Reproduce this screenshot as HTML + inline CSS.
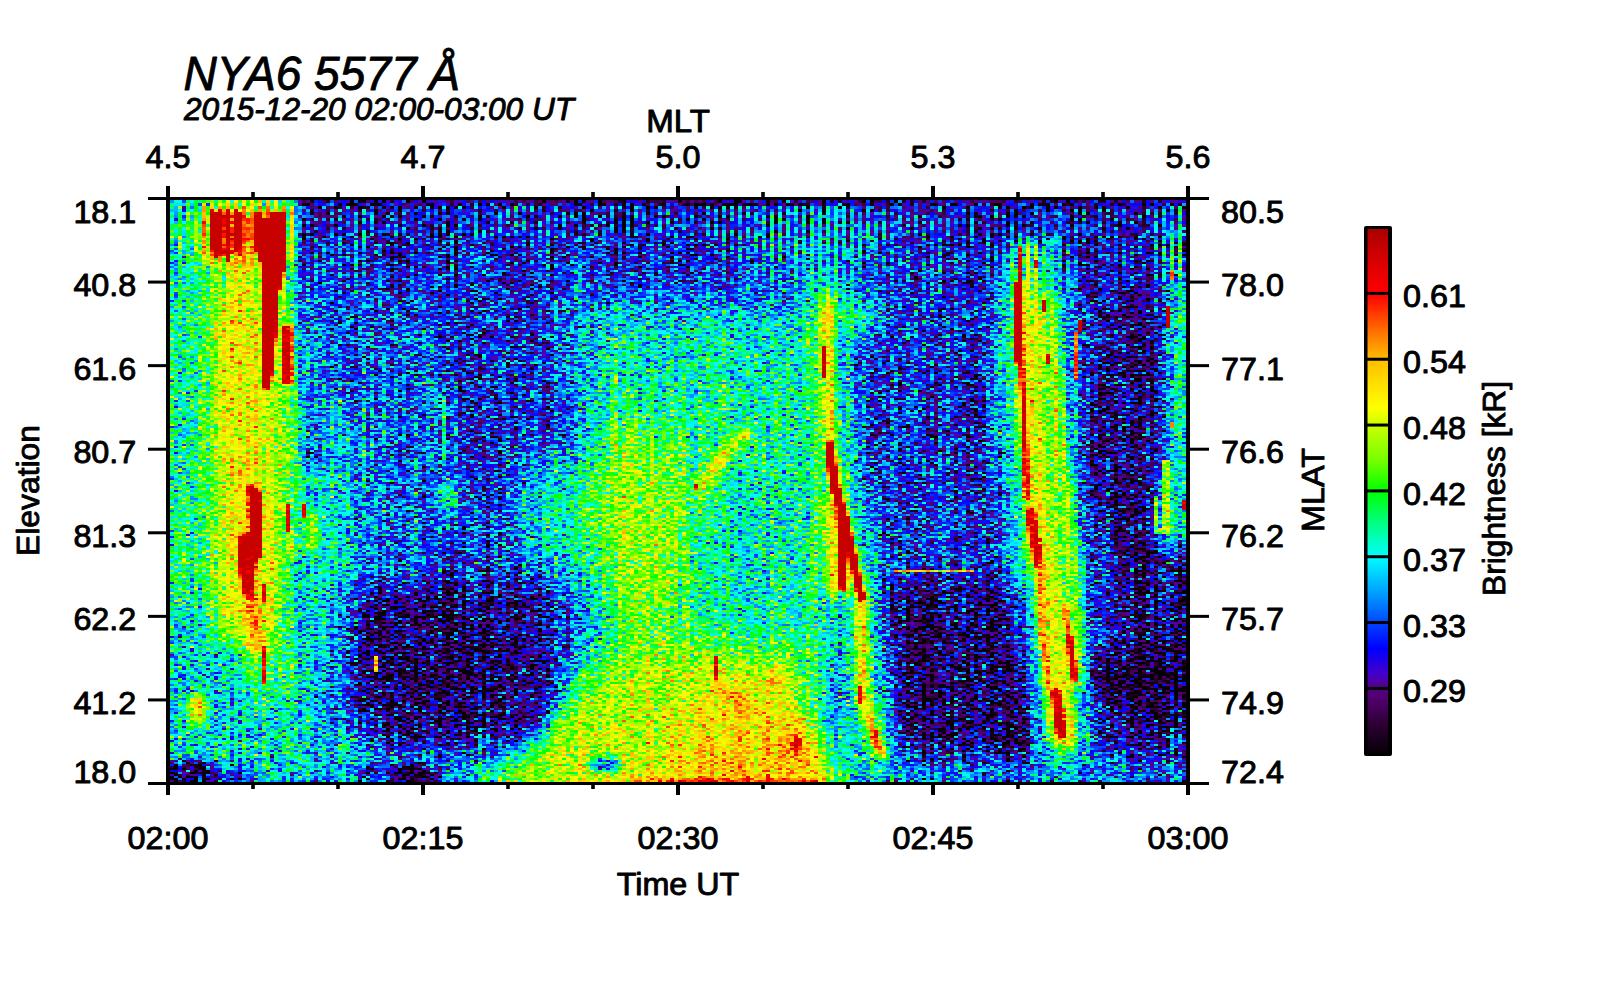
<!DOCTYPE html>
<html lang="en"><head><meta charset="utf-8"><title>NYA6 5577 keogram</title>
<style>html,body{margin:0;padding:0;background:#fff}svg{display:block}text{font-family:"Liberation Sans",sans-serif;fill:#000;stroke:#000;stroke-width:.9px;stroke-linejoin:round}</style></head><body>
<svg width="1600" height="1000" viewBox="0 0 1600 1000">
<defs>
<linearGradient id="cb" x1="0" y1="1" x2="0" y2="0">
<stop offset="0" stop-color="rgb(8,0,8)"/>
<stop offset="0.05" stop-color="rgb(40,0,45)"/>
<stop offset="0.1" stop-color="rgb(78,0,105)"/>
<stop offset="0.125" stop-color="rgb(85,0,130)"/>
<stop offset="0.15" stop-color="rgb(70,0,200)"/>
<stop offset="0.2" stop-color="rgb(0,0,255)"/>
<stop offset="0.25" stop-color="rgb(0,70,255)"/>
<stop offset="0.3" stop-color="rgb(0,150,255)"/>
<stop offset="0.375" stop-color="rgb(0,255,255)"/>
<stop offset="0.44" stop-color="rgb(0,255,130)"/>
<stop offset="0.5" stop-color="rgb(0,255,0)"/>
<stop offset="0.56" stop-color="rgb(120,255,0)"/>
<stop offset="0.625" stop-color="rgb(200,255,0)"/>
<stop offset="0.66" stop-color="rgb(255,255,0)"/>
<stop offset="0.75" stop-color="rgb(255,190,0)"/>
<stop offset="0.8" stop-color="rgb(255,120,0)"/>
<stop offset="0.875" stop-color="rgb(255,0,0)"/>
<stop offset="0.92" stop-color="rgb(230,0,0)"/>
<stop offset="1" stop-color="rgb(170,0,0)"/>
</linearGradient>
<clipPath id="clip0"><rect x="170" y="200" width="1016" height="36"/></clipPath>
<filter id="cm0" filterUnits="userSpaceOnUse" x="170" y="200" width="1016" height="36" color-interpolation-filters="sRGB">
<feTurbulence type="fractalNoise" baseFrequency="0.37 0.433333" numOctaves="2" seed="7"/>
<feColorMatrix type="matrix" values="1 0 0 0 0 1 0 0 0 0 1 0 0 0 0 0 0 0 0 1" result="t1"/>
<feTurbulence type="fractalNoise" baseFrequency="0.37 0.006" numOctaves="1" seed="23"/>
<feColorMatrix type="matrix" values="1 0 0 0 0 1 0 0 0 0 1 0 0 0 0 0 0 0 0 1" result="t2"/>
<feComposite in="t1" in2="t2" operator="arithmetic" k1="0" k2="1" k3="0.388889" k4="-0.194444" result="n"/>
<feComposite in="SourceGraphic" in2="n" operator="arithmetic" k1="-0.5886" k2="1.2943" k3="0.692308" k4="-0.346154" result="v0"/>
<feFlood x="170" y="200" width="1" height="1" flood-color="#000"/>
<feComposite width="4" height="3"/>
<feTile result="grid"/>
<feComposite in="v0" in2="grid" operator="in" result="s0"/>
<feOffset in="s0" dx="1" result="o"/><feMerge result="s1"><feMergeNode in="s0"/><feMergeNode in="o"/></feMerge>
<feOffset in="s1" dx="2" result="o"/><feMerge result="s2"><feMergeNode in="s1"/><feMergeNode in="o"/></feMerge>
<feOffset in="s2" dy="1" result="o"/><feMerge result="s3"><feMergeNode in="s2"/><feMergeNode in="o"/></feMerge>
<feOffset in="s3" dy="1" result="o"/><feMerge result="v"><feMergeNode in="s3"/><feMergeNode in="o"/></feMerge>
<feGaussianBlur in="v" stdDeviation="0 0.45" result="v"/>
<feComponentTransfer in="v"><feFuncR type="table" tableValues="0.031 0.072 0.113 0.154 0.202 0.25 0.298 0.321 0.322 0.283 0.206 0.117 0.027 0 0 0 0 0 0 0 0 0 0 0 0 0 0 0 0 0 0 0.029 0.157 0.284 0.412 0.513 0.591 0.67 0.748 0.838 0.938 1 1 1 1 1 1 1 1 1 1 1 1 1 0.995 0.959 0.924 0.884 0.784 0.784 0.784 0.784 0.784 0.784 0.784 0.784 0.784 0.784 0.784 0.784 0.784 0.784 0.784 0.784 0.784 0.784 0.784 0.784 0.784 0.784 0.784"/><feFuncG type="table" tableValues="0 0 0 0 0 0 0 0 0 0 0 0 0 0.062 0.151 0.24 0.337 0.439 0.541 0.636 0.725 0.815 0.904 0.993 1 1 1 1 1 1 1 1 1 1 1 1 1 1 1 1 1 0.982 0.936 0.89 0.844 0.798 0.752 0.67 0.58 0.491 0.392 0.29 0.188 0.086 0 0 0 0 0 0 0 0 0 0 0 0 0 0 0 0 0 0 0 0 0 0 0 0 0 0 0"/><feFuncB type="table" tableValues="0.031 0.079 0.126 0.173 0.247 0.324 0.4 0.466 0.565 0.743 0.838 0.908 0.978 1 1 1 1 1 1 1 1 1 1 1 0.887 0.764 0.642 0.519 0.382 0.244 0.106 0 0 0 0 0 0 0 0 0 0 0 0 0 0 0 0 0 0 0 0 0 0 0 0 0 0 0 0 0 0 0 0 0 0 0 0 0 0 0 0 0 0 0 0 0 0 0 0 0 0"/><feFuncA type="linear" slope="0" intercept="1"/></feComponentTransfer>
</filter>
<clipPath id="clip1"><rect x="170" y="236" width="1016" height="64"/></clipPath>
<filter id="cm1" filterUnits="userSpaceOnUse" x="170" y="236" width="1016" height="64" color-interpolation-filters="sRGB">
<feTurbulence type="fractalNoise" baseFrequency="0.37 0.61" numOctaves="2" seed="8"/>
<feColorMatrix type="matrix" values="1 0 0 0 0 1 0 0 0 0 1 0 0 0 0 0 0 0 0 1" result="t1"/>
<feTurbulence type="fractalNoise" baseFrequency="0.37 0.006" numOctaves="1" seed="24"/>
<feColorMatrix type="matrix" values="1 0 0 0 0 1 0 0 0 0 1 0 0 0 0 0 0 0 0 1" result="t2"/>
<feComposite in="t1" in2="t2" operator="arithmetic" k1="0" k2="1" k3="0.368421" k4="-0.184211" result="n"/>
<feComposite in="SourceGraphic" in2="n" operator="arithmetic" k1="-0.6213" k2="1.31065" k3="0.730769" k4="-0.365385" result="v0"/>
<feFlood x="170" y="236" width="1" height="1" flood-color="#000"/>
<feComposite width="4" height="2"/>
<feTile result="grid"/>
<feComposite in="v0" in2="grid" operator="in" result="s0"/>
<feOffset in="s0" dx="1" result="o"/><feMerge result="s1"><feMergeNode in="s0"/><feMergeNode in="o"/></feMerge>
<feOffset in="s1" dx="2" result="o"/><feMerge result="s2"><feMergeNode in="s1"/><feMergeNode in="o"/></feMerge>
<feOffset in="s2" dy="1" result="o"/><feMerge result="v"><feMergeNode in="s2"/><feMergeNode in="o"/></feMerge>
<feGaussianBlur in="v" stdDeviation="0 0.45" result="v"/>
<feComponentTransfer in="v"><feFuncR type="table" tableValues="0.031 0.072 0.113 0.154 0.202 0.25 0.298 0.321 0.322 0.283 0.206 0.117 0.027 0 0 0 0 0 0 0 0 0 0 0 0 0 0 0 0 0 0 0.029 0.157 0.284 0.412 0.513 0.591 0.67 0.748 0.838 0.938 1 1 1 1 1 1 1 1 1 1 1 1 1 0.995 0.959 0.924 0.884 0.784 0.784 0.784 0.784 0.784 0.784 0.784 0.784 0.784 0.784 0.784 0.784 0.784 0.784 0.784 0.784 0.784 0.784 0.784 0.784 0.784 0.784 0.784"/><feFuncG type="table" tableValues="0 0 0 0 0 0 0 0 0 0 0 0 0 0.062 0.151 0.24 0.337 0.439 0.541 0.636 0.725 0.815 0.904 0.993 1 1 1 1 1 1 1 1 1 1 1 1 1 1 1 1 1 0.982 0.936 0.89 0.844 0.798 0.752 0.67 0.58 0.491 0.392 0.29 0.188 0.086 0 0 0 0 0 0 0 0 0 0 0 0 0 0 0 0 0 0 0 0 0 0 0 0 0 0 0"/><feFuncB type="table" tableValues="0.031 0.079 0.126 0.173 0.247 0.324 0.4 0.466 0.565 0.743 0.838 0.908 0.978 1 1 1 1 1 1 1 1 1 1 1 0.887 0.764 0.642 0.519 0.382 0.244 0.106 0 0 0 0 0 0 0 0 0 0 0 0 0 0 0 0 0 0 0 0 0 0 0 0 0 0 0 0 0 0 0 0 0 0 0 0 0 0 0 0 0 0 0 0 0 0 0 0 0 0"/><feFuncA type="linear" slope="0" intercept="1"/></feComponentTransfer>
</filter>
<clipPath id="clip2"><rect x="170" y="300" width="1016" height="482"/></clipPath>
<filter id="cm2" filterUnits="userSpaceOnUse" x="170" y="300" width="1016" height="482" color-interpolation-filters="sRGB">
<feTurbulence type="fractalNoise" baseFrequency="0.37 0.61" numOctaves="2" seed="9"/>
<feColorMatrix type="matrix" values="1 0 0 0 0 1 0 0 0 0 1 0 0 0 0 0 0 0 0 1" result="t1"/>
<feTurbulence type="fractalNoise" baseFrequency="0.37 0.006" numOctaves="1" seed="25"/>
<feColorMatrix type="matrix" values="1 0 0 0 0 1 0 0 0 0 1 0 0 0 0 0 0 0 0 1" result="t2"/>
<feComposite in="t1" in2="t2" operator="arithmetic" k1="0" k2="1" k3="0.373832" k4="-0.186916" result="n"/>
<feComposite in="SourceGraphic" in2="n" operator="arithmetic" k1="-0.69978" k2="1.34989" k3="0.823077" k4="-0.411538" result="v0"/>
<feFlood x="170" y="300" width="1" height="1" flood-color="#000"/>
<feComposite width="4" height="2"/>
<feTile result="grid"/>
<feComposite in="v0" in2="grid" operator="in" result="s0"/>
<feOffset in="s0" dx="1" result="o"/><feMerge result="s1"><feMergeNode in="s0"/><feMergeNode in="o"/></feMerge>
<feOffset in="s1" dx="2" result="o"/><feMerge result="s2"><feMergeNode in="s1"/><feMergeNode in="o"/></feMerge>
<feOffset in="s2" dy="1" result="o"/><feMerge result="v"><feMergeNode in="s2"/><feMergeNode in="o"/></feMerge>
<feGaussianBlur in="v" stdDeviation="0 0.45" result="v"/>
<feComponentTransfer in="v"><feFuncR type="table" tableValues="0.031 0.072 0.113 0.154 0.202 0.25 0.298 0.321 0.322 0.283 0.206 0.117 0.027 0 0 0 0 0 0 0 0 0 0 0 0 0 0 0 0 0 0 0.029 0.157 0.284 0.412 0.513 0.591 0.67 0.748 0.838 0.938 1 1 1 1 1 1 1 1 1 1 1 1 1 0.995 0.959 0.924 0.884 0.784 0.784 0.784 0.784 0.784 0.784 0.784 0.784 0.784 0.784 0.784 0.784 0.784 0.784 0.784 0.784 0.784 0.784 0.784 0.784 0.784 0.784 0.784"/><feFuncG type="table" tableValues="0 0 0 0 0 0 0 0 0 0 0 0 0 0.062 0.151 0.24 0.337 0.439 0.541 0.636 0.725 0.815 0.904 0.993 1 1 1 1 1 1 1 1 1 1 1 1 1 1 1 1 1 0.982 0.936 0.89 0.844 0.798 0.752 0.67 0.58 0.491 0.392 0.29 0.188 0.086 0 0 0 0 0 0 0 0 0 0 0 0 0 0 0 0 0 0 0 0 0 0 0 0 0 0 0"/><feFuncB type="table" tableValues="0.031 0.079 0.126 0.173 0.247 0.324 0.4 0.466 0.565 0.743 0.838 0.908 0.978 1 1 1 1 1 1 1 1 1 1 1 0.887 0.764 0.642 0.519 0.382 0.244 0.106 0 0 0 0 0 0 0 0 0 0 0 0 0 0 0 0 0 0 0 0 0 0 0 0 0 0 0 0 0 0 0 0 0 0 0 0 0 0 0 0 0 0 0 0 0 0 0 0 0 0"/><feFuncA type="linear" slope="0" intercept="1"/></feComponentTransfer>
</filter>
<g id="paint">
<filter id="b1_3" filterUnits="userSpaceOnUse" x="0" y="100" width="1400" height="800" color-interpolation-filters="sRGB"><feGaussianBlur stdDeviation="1.3"/></filter>
<filter id="b3_5" filterUnits="userSpaceOnUse" x="0" y="100" width="1400" height="800" color-interpolation-filters="sRGB"><feGaussianBlur stdDeviation="3.5"/></filter>
<filter id="b5" filterUnits="userSpaceOnUse" x="0" y="100" width="1400" height="800" color-interpolation-filters="sRGB"><feGaussianBlur stdDeviation="5"/></filter>
<filter id="b12" filterUnits="userSpaceOnUse" x="0" y="100" width="1400" height="800" color-interpolation-filters="sRGB"><feGaussianBlur stdDeviation="12"/></filter>
<filter id="b20" filterUnits="userSpaceOnUse" x="0" y="100" width="1400" height="800" color-interpolation-filters="sRGB"><feGaussianBlur stdDeviation="20"/></filter>
<g>
<rect x="120" y="150" width="1116" height="682" fill="#313131"/>
</g>
<g filter="url(#b20)">
<rect x="100" y="150" width="194" height="680" fill="#565656"/>
<rect x="216" y="150" width="76" height="320" fill="#767676"/>
<rect x="218" y="470" width="54" height="170" fill="#727272"/>
<polygon points="240,640 300,640 320,700 250,700" fill="#666666"/>
<polygon points="100,600 215,600 240,700 360,720 360,830 100,830" fill="#434343"/>
<rect x="300" y="270" width="140" height="300" fill="#313131"/>
<rect x="296" y="570" width="54" height="180" fill="#414141"/>
<rect x="290" y="405" width="70" height="185" fill="#4b4b4b"/>
<polygon points="450,290 548,290 548,440 520,470 520,580 556,600 556,750 475,750" fill="#252525"/>
<ellipse cx="556" cy="515" rx="40" ry="60" fill="#525252"/>
<polygon points="582,308 800,305 815,480 850,700 860,830 430,830 470,778 560,725 594,655 590,560" fill="#545454"/>
<ellipse cx="638" cy="525" rx="48" ry="110" fill="#747474"/>
<ellipse cx="768" cy="560" rx="36" ry="80" fill="#4e4e4e"/>
<ellipse cx="700" cy="350" rx="90" ry="40" fill="#4e4e4e"/>
<polygon points="600,650 700,640 800,660 830,830 460,830 490,775" fill="#7a7a7a"/>
<polygon points="600,775 680,700 805,700 830,830 560,830" fill="#858585"/>
<ellipse cx="810" cy="236" rx="80" ry="42" fill="#505050"/>
<polygon points="880,300 1000,300 1012,570 890,570" fill="#272727"/>
<polygon points="1095,280 1230,280 1230,760 1100,760" fill="#161616"/>
<rect x="880" y="757" width="370" height="73" fill="#3b3b3b"/>
<rect x="200" y="740" width="270" height="25" fill="#494949"/>
</g>
<g filter="url(#b12)">
<polygon points="358,590 440,578 545,588 552,700 525,742 380,745 340,725 352,690" fill="#161616"/>
<ellipse cx="425" cy="655" rx="72" ry="60" fill="#0e0e0e"/>
<polygon points="880,580 1010,580 1034,755 893,755" fill="#0f0f0f"/>
<ellipse cx="1142" cy="680" rx="62" ry="32" fill="#060606"/>
<ellipse cx="1125" cy="440" rx="36" ry="110" fill="#101010"/>
<ellipse cx="240" cy="232" rx="50" ry="34" fill="#939393"/>
<polygon points="220,260 290,260 292,420 284,520 274,600 232,600 220,420" fill="#7c7c7c"/>
<rect x="219" y="255" width="30" height="385" fill="#898989"/>
<polygon points="238,500 268,500 272,640 246,640" fill="#858585"/>
<rect x="170" y="727" width="186" height="28" fill="#4e4e4e"/>
<rect x="300" y="200" width="45" height="180" fill="#333333"/>
<ellipse cx="642" cy="538" rx="20" ry="30" fill="#767676"/>
<polygon points="640,778 700,745 815,750 825,800 620,800" fill="#8d8d8d"/>
<ellipse cx="745" cy="700" rx="35" ry="22" fill="#898989"/>
<ellipse cx="793" cy="740" rx="16" ry="22" fill="#9d9d9d"/>
<ellipse cx="778" cy="675" rx="9" ry="24" fill="#7e7e7e"/>
<polyline points="824,270 826,340 832,450 842,520 858,600 866,690 880,755" fill="none" stroke="#565656" stroke-width="34" stroke-linecap="round" stroke-linejoin="round"/>
<ellipse cx="842" cy="314" rx="36" ry="22" fill="#5e5e5e"/>
<polyline points="810,300 813,450 822,540 828,590" fill="none" stroke="#666666" stroke-width="22" stroke-linecap="round" stroke-linejoin="round"/>
<ellipse cx="838" cy="705" rx="22" ry="45" fill="#3f3f3f"/>
<polyline points="1028,240 1032,330 1038,470 1046,580" fill="none" stroke="#5a5a5a" stroke-width="64" stroke-linecap="butt" stroke-linejoin="round"/>
<polyline points="1046,570 1054,620 1062,700 1064,742" fill="none" stroke="#5a5a5a" stroke-width="46" stroke-linecap="round" stroke-linejoin="round"/>
<polyline points="1183,215 1180,330 1177,430 1175,535" fill="none" stroke="#626262" stroke-width="28" stroke-linecap="round" stroke-linejoin="round"/>
</g>
<g filter="url(#b3_5)">
<polyline points="825,296 825,340 829,445 838,500 850,560 859,598 861,697 875,744 880,752" fill="none" stroke="#898989" stroke-width="13" stroke-linecap="round" stroke-linejoin="round"/>
<polyline points="826,505 832,590" fill="none" stroke="#7e7e7e" stroke-width="14" stroke-linecap="round" stroke-linejoin="round"/>
<polyline points="1026,255 1028,330 1032,420 1038,500 1048,600 1056,690 1062,736" fill="none" stroke="#808080" stroke-width="28" stroke-linecap="round" stroke-linejoin="round"/>
<polyline points="1046,300 1056,420 1070,560 1076,680" fill="none" stroke="#767676" stroke-width="14" stroke-linecap="round" stroke-linejoin="round"/>
<polygon points="200,206 292,206 292,262 250,268 200,258" fill="#9d9d9d"/>
<rect x="297" y="206" width="33" height="264" fill="#353535"/>
<polyline points="248,596 256,646" fill="none" stroke="#959595" stroke-width="16" stroke-linecap="round" stroke-linejoin="round"/>
<ellipse cx="310" cy="530" rx="7" ry="20" fill="#7a7a7a"/>
<ellipse cx="290" cy="545" rx="4" ry="12" fill="#7e7e7e"/>
<polyline points="714,683 746,714" fill="none" stroke="#959595" stroke-width="10" stroke-linecap="round" stroke-linejoin="round"/>
<ellipse cx="604" cy="764" rx="17" ry="7" fill="#373737"/>
<rect x="770" y="666" width="5" height="20" fill="#999999"/>
</g>
<g filter="url(#b5)">
<ellipse cx="446" cy="497" rx="11" ry="19" fill="#525252"/>
<polyline points="700,486 722,456 744,434" fill="none" stroke="#858585" stroke-width="14" stroke-linecap="round" stroke-linejoin="round"/>
<ellipse cx="188" cy="775" rx="30" ry="15" fill="#040404"/>
<ellipse cx="236" cy="777" rx="13" ry="9" fill="#181818"/>
<ellipse cx="414" cy="775" rx="22" ry="14" fill="#000000"/>
<ellipse cx="370" cy="771" rx="16" ry="8" fill="#141414"/>
<ellipse cx="197" cy="708" rx="9" ry="17" fill="#898989"/>
</g>
<g>
<linearGradient id="sf" gradientUnits="userSpaceOnUse" x1="0" y1="0" x2="0" y2="120"><stop offset="0" stop-color="#0a0a0a" stop-opacity=".8"/><stop offset=".5" stop-color="#0a0a0a" stop-opacity=".5"/><stop offset="1" stop-color="#0a0a0a" stop-opacity="0"/></linearGradient>
<pattern id="sp" patternUnits="userSpaceOnUse" x="170" y="200" width="8" height="130"><rect x="4" y="0" width="4" height="130" fill="url(#sf)"/></pattern>
<rect x="296" y="200" width="890" height="130" fill="url(#sp)"/>
<rect x="170" y="200" width="126" height="130" fill="url(#sp)" opacity=".45"/>
</g>
<g filter="url(#b1_3)">
<polygon points="209,210 240,210 240,246 226,256 209,248" fill="#efefef"/>
<polygon points="253,212 284,212 283,250 282,276 276,298 274,340 271,371 268,388 261,388 261,262 253,250" fill="#efefef"/>
<rect x="243" y="215" width="8" height="25" fill="#a1a1a1"/>
<rect x="280" y="325" width="11" height="59" fill="#bebebe"/>
<polygon points="246,484 251,484 261,492 261,556 255,562 251,596 243,596 237,572 236,536 248,532" fill="#c0c0c0"/>
<polyline points="828,445 832,480 839,505 842,587" fill="none" stroke="#efefef" stroke-width="8" stroke-linecap="round" stroke-linejoin="round"/>
<polyline points="842,515 847,535 856,580 860,597" fill="none" stroke="#efefef" stroke-width="7" stroke-linecap="round" stroke-linejoin="round"/>
<polyline points="873,730 876,747" fill="none" stroke="#b4b4b4" stroke-width="5" stroke-linecap="round" stroke-linejoin="round"/>
<polyline points="1019.5,246 1018.5,281" fill="none" stroke="#bababa" stroke-width="4" stroke-linecap="butt" stroke-linejoin="round"/>
<polyline points="1017.5,281 1017.5,362" fill="none" stroke="#efefef" stroke-width="8" stroke-linecap="butt" stroke-linejoin="round"/>
<polyline points="1019.5,362 1022,400 1026,500" fill="none" stroke="#b6b6b6" stroke-width="6" stroke-linecap="butt" stroke-linejoin="round"/>
<polyline points="1029,512 1033,540 1037,562" fill="none" stroke="#b6b6b6" stroke-width="11" stroke-linecap="round" stroke-linejoin="round"/>
<polyline points="1039,560 1041,637 1047,685" fill="none" stroke="#9d9d9d" stroke-width="6" stroke-linecap="round" stroke-linejoin="round"/>
<polyline points="1064,606 1068,637" fill="none" stroke="#a1a1a1" stroke-width="6" stroke-linecap="round" stroke-linejoin="round"/>
<polyline points="1068,637 1073,678" fill="none" stroke="#bebebe" stroke-width="7" stroke-linecap="round" stroke-linejoin="round"/>
<polyline points="1054,692 1060,734" fill="none" stroke="#bebebe" stroke-width="10" stroke-linecap="round" stroke-linejoin="round"/>
<ellipse cx="795" cy="744" rx="5" ry="10" fill="#b4b4b4"/>
<rect x="630" y="778" width="186" height="4" fill="#a7a7a7"/>
</g>
<g>
<rect x="891" y="570" width="80" height="2" fill="#898989"/>
<rect x="214" y="246" width="4" height="12" fill="#bebebe"/>
<rect x="226" y="246" width="4" height="16" fill="#bebebe"/>
<rect x="222" y="212" width="4" height="38" fill="#a9a9a9"/>
<rect x="230" y="212" width="4" height="40" fill="#a5a5a5"/>
<rect x="262" y="212" width="8" height="6" fill="#9d9d9d"/>
<rect x="238" y="246" width="4" height="10" fill="#b1b1b1"/>
<rect x="282" y="256" width="4" height="16" fill="#bebebe"/>
<rect x="262" y="584" width="4" height="18" fill="#b4b4b4"/>
<rect x="262" y="646" width="4" height="38" fill="#adadad"/>
<rect x="286" y="504" width="4" height="28" fill="#b4b4b4"/>
<rect x="302" y="504" width="4" height="14" fill="#b4b4b4"/>
<rect x="822" y="346" width="4" height="32" fill="#c4c4c4"/>
<rect x="858" y="686" width="4" height="18" fill="#b1b1b1"/>
<rect x="1034" y="260" width="4" height="8" fill="#bababa"/>
<rect x="1042" y="300" width="4" height="12" fill="#c4c4c4"/>
<rect x="1046" y="354" width="4" height="10" fill="#bebebe"/>
<rect x="1078" y="320" width="4" height="12" fill="#c4c4c4"/>
<rect x="1074" y="332" width="4" height="48" fill="#9d9d9d"/>
<rect x="1166" y="306" width="4" height="22" fill="#c4c4c4"/>
<rect x="1166" y="464" width="4" height="12" fill="#bebebe"/>
<rect x="1170" y="270" width="4" height="10" fill="#a1a1a1"/>
<rect x="1170" y="422" width="4" height="6" fill="#a7a7a7"/>
<rect x="1182" y="500" width="4" height="10" fill="#bababa"/>
<rect x="442" y="396" width="4" height="64" fill="#565656"/>
<rect x="374" y="656" width="4" height="16" fill="#8d8d8d"/>
<rect x="714" y="656" width="4" height="24" fill="#b4b4b4"/>
<rect x="694" y="484" width="4" height="6" fill="#b4b4b4"/>
<rect x="1154" y="496" width="4" height="36" fill="#727272"/>
<rect x="1162" y="460" width="8" height="70" fill="#727272"/>
<rect x="1154" y="528" width="16" height="6" fill="#6c6c6c"/>
<rect x="296" y="200" width="890" height="4" fill="#101010" opacity="0.75"/>
</g>
</g>
</defs>
<rect width="1600" height="1000" fill="#fff"/>
<g clip-path="url(#clip0)"><g filter="url(#cm0)"><use href="#paint"/></g></g>
<g clip-path="url(#clip1)"><g filter="url(#cm1)"><use href="#paint"/></g></g>
<g clip-path="url(#clip2)"><g filter="url(#cm2)"><use href="#paint"/></g></g>
<g fill="#000">
<rect x="166" y="197" width="4" height="588"/>
<rect x="1186" y="197" width="4" height="588"/>
<rect x="166" y="197" width="1024" height="3"/>
<rect x="166" y="782" width="1024" height="3"/>
<rect x="166.00" y="186" width="4" height="11"/>
<rect x="166.00" y="785" width="4" height="10"/>
<rect x="251.20" y="192" width="3.6" height="5"/>
<rect x="251.20" y="785" width="3.6" height="4"/>
<rect x="336.20" y="192" width="3.6" height="5"/>
<rect x="336.20" y="785" width="3.6" height="4"/>
<rect x="421.00" y="186" width="4" height="11"/>
<rect x="421.00" y="785" width="4" height="10"/>
<rect x="506.20" y="192" width="3.6" height="5"/>
<rect x="506.20" y="785" width="3.6" height="4"/>
<rect x="591.20" y="192" width="3.6" height="5"/>
<rect x="591.20" y="785" width="3.6" height="4"/>
<rect x="676.00" y="186" width="4" height="11"/>
<rect x="676.00" y="785" width="4" height="10"/>
<rect x="761.20" y="192" width="3.6" height="5"/>
<rect x="761.20" y="785" width="3.6" height="4"/>
<rect x="846.20" y="192" width="3.6" height="5"/>
<rect x="846.20" y="785" width="3.6" height="4"/>
<rect x="931.00" y="186" width="4" height="11"/>
<rect x="931.00" y="785" width="4" height="10"/>
<rect x="1016.20" y="192" width="3.6" height="5"/>
<rect x="1016.20" y="785" width="3.6" height="4"/>
<rect x="1101.20" y="192" width="3.6" height="5"/>
<rect x="1101.20" y="785" width="3.6" height="4"/>
<rect x="1186.00" y="186" width="4" height="11"/>
<rect x="1186.00" y="785" width="4" height="10"/>
<rect x="148" y="197.00" width="18" height="3"/>
<rect x="1190" y="197.00" width="19" height="3"/>
<rect x="148" y="280.57" width="18" height="3"/>
<rect x="1190" y="280.57" width="19" height="3"/>
<rect x="148" y="364.14" width="18" height="3"/>
<rect x="1190" y="364.14" width="19" height="3"/>
<rect x="148" y="447.71" width="18" height="3"/>
<rect x="1190" y="447.71" width="19" height="3"/>
<rect x="148" y="531.29" width="18" height="3"/>
<rect x="1190" y="531.29" width="19" height="3"/>
<rect x="148" y="614.86" width="18" height="3"/>
<rect x="1190" y="614.86" width="19" height="3"/>
<rect x="148" y="698.43" width="18" height="3"/>
<rect x="1190" y="698.43" width="19" height="3"/>
<rect x="148" y="782.00" width="18" height="3"/>
<rect x="1190" y="782.00" width="19" height="3"/>
</g>
<text transform="translate(183.5,89.7) scale(.96,1)" font-size="48" font-style="italic">NYA6 5577 Å</text>
<text transform="translate(184,119.7) scale(1.02,1)" font-size="31" text-anchor="start" font-style="italic">2015-12-20 02:00-03:00 UT</text>
<text transform="translate(678,131.7) scale(1.085,1)" font-size="30.5" text-anchor="middle">MLT</text>
<text transform="translate(168,168) scale(1.06,1)" font-size="30.5" text-anchor="middle">4.5</text>
<text transform="translate(423,168) scale(1.06,1)" font-size="30.5" text-anchor="middle">4.7</text>
<text transform="translate(678,168) scale(1.06,1)" font-size="30.5" text-anchor="middle">5.0</text>
<text transform="translate(933,168) scale(1.06,1)" font-size="30.5" text-anchor="middle">5.3</text>
<text transform="translate(1188,168) scale(1.06,1)" font-size="30.5" text-anchor="middle">5.6</text>
<text transform="translate(168,848.5) scale(1.06,1)" font-size="30.5" text-anchor="middle">02:00</text>
<text transform="translate(423,848.5) scale(1.06,1)" font-size="30.5" text-anchor="middle">02:15</text>
<text transform="translate(678,848.5) scale(1.06,1)" font-size="30.5" text-anchor="middle">02:30</text>
<text transform="translate(933,848.5) scale(1.06,1)" font-size="30.5" text-anchor="middle">02:45</text>
<text transform="translate(1188,848.5) scale(1.06,1)" font-size="30.5" text-anchor="middle">03:00</text>
<text transform="translate(678,894.8) scale(1.06,1)" font-size="30.5" text-anchor="middle">Time UT</text>
<text transform="translate(136.3,223) scale(1.06,1)" font-size="30.5" text-anchor="end">18.1</text>
<text transform="translate(1221,223) scale(1.06,1)" font-size="30.5" text-anchor="start">80.5</text>
<text transform="translate(136.3,296.071) scale(1.06,1)" font-size="30.5" text-anchor="end">40.8</text>
<text transform="translate(1221,296.071) scale(1.06,1)" font-size="30.5" text-anchor="start">78.0</text>
<text transform="translate(136.3,379.643) scale(1.06,1)" font-size="30.5" text-anchor="end">61.6</text>
<text transform="translate(1221,379.643) scale(1.06,1)" font-size="30.5" text-anchor="start">77.1</text>
<text transform="translate(136.3,463.214) scale(1.06,1)" font-size="30.5" text-anchor="end">80.7</text>
<text transform="translate(1221,463.214) scale(1.06,1)" font-size="30.5" text-anchor="start">76.6</text>
<text transform="translate(136.3,546.786) scale(1.06,1)" font-size="30.5" text-anchor="end">81.3</text>
<text transform="translate(1221,546.786) scale(1.06,1)" font-size="30.5" text-anchor="start">76.2</text>
<text transform="translate(136.3,630.357) scale(1.06,1)" font-size="30.5" text-anchor="end">62.2</text>
<text transform="translate(1221,630.357) scale(1.06,1)" font-size="30.5" text-anchor="start">75.7</text>
<text transform="translate(136.3,713.929) scale(1.06,1)" font-size="30.5" text-anchor="end">41.2</text>
<text transform="translate(1221,713.929) scale(1.06,1)" font-size="30.5" text-anchor="start">74.9</text>
<text transform="translate(136.3,782.5) scale(1.06,1)" font-size="30.5" text-anchor="end">18.0</text>
<text transform="translate(1221,782.5) scale(1.06,1)" font-size="30.5" text-anchor="start">72.4</text>
<text transform="translate(39,490.5) rotate(-90) scale(1.045,1)" font-size="30.5" text-anchor="middle">Elevation</text>
<text transform="translate(1323.5,490) rotate(-90) scale(1.06,1)" font-size="30.5" text-anchor="middle">MLAT</text>
<text transform="translate(1505,488.5) rotate(-90) scale(1.04,1)" font-size="30.5" text-anchor="middle">Brightness [kR]</text>
<rect x="1364" y="226" width="28" height="530" rx="2" fill="#000"/>
<rect x="1367.5" y="229" width="20.5" height="524.5" fill="url(#cb)"/>
<rect x="1366" y="291.90" width="24" height="3" fill="#000"/>
<text transform="translate(1403,307.4) scale(1.06,1)" font-size="30.5" text-anchor="start">0.61</text>
<rect x="1366" y="357.73" width="24" height="3" fill="#000"/>
<text transform="translate(1403,373.23) scale(1.06,1)" font-size="30.5" text-anchor="start">0.54</text>
<rect x="1366" y="423.56" width="24" height="3" fill="#000"/>
<text transform="translate(1403,439.06) scale(1.06,1)" font-size="30.5" text-anchor="start">0.48</text>
<rect x="1366" y="489.39" width="24" height="3" fill="#000"/>
<text transform="translate(1403,504.89) scale(1.06,1)" font-size="30.5" text-anchor="start">0.42</text>
<rect x="1366" y="555.22" width="24" height="3" fill="#000"/>
<text transform="translate(1403,570.72) scale(1.06,1)" font-size="30.5" text-anchor="start">0.37</text>
<rect x="1366" y="621.05" width="24" height="3" fill="#000"/>
<text transform="translate(1403,636.55) scale(1.06,1)" font-size="30.5" text-anchor="start">0.33</text>
<rect x="1366" y="686.88" width="24" height="3" fill="#000"/>
<text transform="translate(1403,702.38) scale(1.06,1)" font-size="30.5" text-anchor="start">0.29</text>
</svg></body></html>
